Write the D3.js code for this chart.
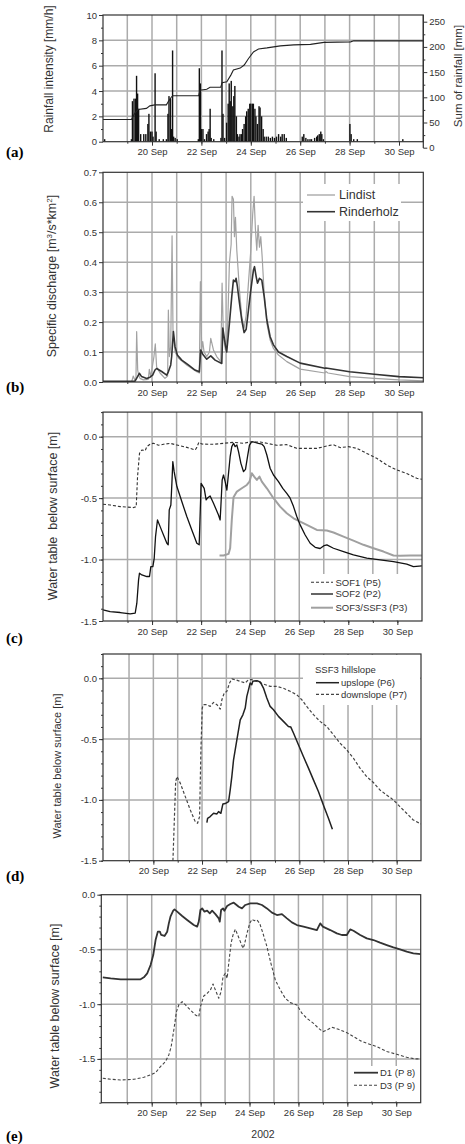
<!DOCTYPE html>
<html><head><meta charset="utf-8">
<script src="https://cdn.jsdelivr.net/npm/d3@7"></script>
<style>
body{margin:0;background:#fff}
svg{display:block}
text{fill:#333}
</style></head>
<body><svg id="c" width="465" height="1144" font-family='"Liberation Sans",Arial,sans-serif'></svg>
<script>
// ---------- DATA (time = hours since 18 Sep 2002 00:00) ----------
const labelDays = [20,22,24,26,28,30];
const rainBars = [[2,0.2],[28,0.2],[29,3.2],[30.5,3.4],[32,3.4],[33,5.2],[34,3.8],[35,2.6],[37,0.6],[40,0.6],[42,0.6],[44,1.4],[45,2.2],[46.5,0.8],[48,0.8],[49,0.4],[51,5.4],[52,0.8],[55,0.2],[59,0.2],[62,0.2],[63.5,2.2],[64.5,3.6],[66,3.4],[67,1.0],[68,7.2],[69,0.4],[70.5,0.3],[72.5,0.2],[93,0.2],[94,5.8],[95,4.6],[96,1.0],[97.5,1.0],[99,0.2],[101,0.6],[102.5,0.8],[103.5,1.0],[104.5,2.6],[105.5,0.3],[108,0.2],[115,0.3],[116,7.2],[117,2.2],[118.5,0.3],[120.5,1.5],[122,3.0],[123,4.6],[124,3.2],[125,4.8],[126.5,2.8],[127.5,3.6],[128.5,4.4],[130,2.0],[131,0.6],[132.5,0.4],[133.5,0.6],[135,0.6],[136,1.0],[137.5,1.4],[139,2.0],[140,2.4],[141.5,2.6],[143,3.0],[144,3.0],[145.5,3.0],[146.5,3.0],[148,2.6],[149,2.0],[150.5,1.4],[152,2.8],[153,2.7],[154.5,2.0],[156,1.0],[157,0.4],[159,0.4],[161,0.4],[163,0.3],[165,0.4],[167,0.3],[169,0.4],[171,0.6],[173,0.4],[174.5,0.6],[176.5,0.6],[178.5,0.3],[194,0.4],[195.5,0.6],[197.5,0.3],[199.5,0.2],[201.5,0.2],[203,0.2],[206,0.3],[208,0.4],[209,0.5],[210.5,0.6],[212,0.8],[213,0.6],[214.5,0.2],[240.3,1.4],[241.5,0.6],[244,0.2],[247.5,0.2],[291.7,0.2]];
const cumRain = [[0,56],[28,56],[29,60],[31.2,68],[34.5,76],[42.6,78],[45.9,83],[50.7,85],[62,85],[63.7,91],[67,101],[68.6,103],[93.3,103],[94.6,114],[101.2,116],[104.4,120],[114.8,120],[116.1,129],[120.7,131],[124.6,144],[127.1,154],[133.7,158],[137.6,164],[141.8,177],[146.6,190],[151.5,196],[159.7,198],[172.7,202],[185.7,204],[202,205],[215,209],[241,210],[244,212],[312,212]];
const lindist = [[0,0],[28.2,0],[29.8,0.02],[31.5,0.005],[32.4,0.01],[33.1,0.168],[34.1,0.04],[35.0,0.024],[36.3,0.012],[39.6,0.007],[44.4,0.009],[45.4,0.042],[46.7,0.018],[48.3,0.05],[49.9,0.085],[51.2,0.127],[52.5,0.05],[55.8,0.03],[60.6,0.012],[63.2,0.02],[63.9,0.24],[64.9,0.085],[66.2,0.118],[67.5,0.488],[68.4,0.17],[70.4,0.1],[73.6,0.08],[81.7,0.057],[91.5,0.034],[94.0,0.03],[95.0,0.335],[96.3,0.107],[97.3,0.135],[98.6,0.1],[101.2,0.085],[103.8,0.1],[105.1,0.146],[107.7,0.107],[110.9,0.085],[114.8,0.068],[116.1,0.33],[117.4,0.151],[119.3,0.107],[121.3,0.163],[123.2,0.396],[124.9,0.46],[125.8,0.62],[127.1,0.61],[128.1,0.485],[129.1,0.55],[130.4,0.44],[133.0,0.306],[135.2,0.218],[137.5,0.18],[139.5,0.222],[141.7,0.33],[144.0,0.44],[145.9,0.563],[147.2,0.62],[148.5,0.51],[149.8,0.44],[151.1,0.523],[152.4,0.45],[153.7,0.485],[155.0,0.42],[157.0,0.296],[159.6,0.196],[162.8,0.14],[166.0,0.112],[170.9,0.09],[179.0,0.068],[192.0,0.043],[216,0.03],[217,0.035],[219,0.03],[240,0.018],[264,0.012],[288,0.007],[312,0.004]];
const rinderholz = [[0,0.002],[31.5,0.003],[33.7,0.016],[35.7,0.029],[37.9,0.018],[42.8,0.012],[46.1,0.016],[48.6,0.023],[50.9,0.04],[52.5,0.045],[57.4,0.035],[62.3,0.023],[63.9,0.034],[66.2,0.057],[67.1,0.085],[68.8,0.168],[70.4,0.118],[72.6,0.09],[76.9,0.073],[83.3,0.057],[89.8,0.04],[94.0,0.034],[95.3,0.107],[97.3,0.093],[101.2,0.076],[105.1,0.087],[109.3,0.073],[115.8,0.062],[116.8,0.18],[119.0,0.13],[120.6,0.10],[123.2,0.195],[125.5,0.285],[127.1,0.34],[128.7,0.335],[129.7,0.346],[131.0,0.318],[133.0,0.263],[135.2,0.207],[137.5,0.165],[139.5,0.176],[141.7,0.24],[144.0,0.307],[146.6,0.374],[147.6,0.385],[149.2,0.352],[150.5,0.33],[152.4,0.346],[154.7,0.34],[157.0,0.285],[159.6,0.207],[162.8,0.151],[166.0,0.124],[170.9,0.10],[179.0,0.085],[192.0,0.063],[216,0.046],[217,0.047],[240,0.034],[264,0.026],[288,0.018],[312,0.014]];
const sof1 = [[0,-0.55],[7,-0.556],[16.8,-0.569],[29.9,-0.577],[32.5,-0.57],[33.8,-0.325],[35.7,-0.136],[38,-0.108],[41.3,-0.114],[42.9,-0.081],[46.2,-0.06],[49.4,-0.054],[54.3,-0.07],[59.2,-0.062],[65.7,-0.054],[72.3,-0.068],[82,-0.087],[90.2,-0.108],[91.8,-0.087],[93.8,-0.046],[96.7,-0.06],[108.1,-0.062],[117.9,-0.054],[127.7,-0.046],[137.5,-0.054],[144,-0.043],[153.8,-0.043],[160.3,-0.054],[170.1,-0.07],[179.8,-0.065],[189.6,-0.095],[199.4,-0.095],[209.2,-0.095],[219,-0.076],[225.5,-0.065],[232,-0.089],[240.2,-0.081],[248.3,-0.095],[258.1,-0.136],[267.8,-0.176],[277.6,-0.23],[287.4,-0.271],[297.2,-0.30],[307,-0.339],[312,-0.347]];
const sof2 = [[0,-1.409],[7,-1.423],[16.8,-1.431],[26.6,-1.442],[31.5,-1.436],[33.1,-1.355],[34.8,-1.165],[35.7,-1.111],[38,-1.125],[42.9,-1.138],[45.5,-1.138],[46.8,-1.057],[48.8,-1.057],[50.1,-0.99],[51.4,-0.813],[53.3,-0.678],[55.9,-0.732],[59.2,-0.8],[62.5,-0.867],[63.8,-0.88],[64.8,-0.596],[66.4,-0.556],[67.4,-0.38],[68.3,-0.203],[69.6,-0.285],[72.3,-0.406],[77.1,-0.528],[82,-0.65],[86.9,-0.759],[91.8,-0.867],[94.1,-0.88],[96,-0.38],[99,-0.42],[100.9,-0.515],[102.2,-0.5],[104.8,-0.482],[108.1,-0.542],[113,-0.637],[114.6,-0.678],[115.3,-0.57],[116.6,-0.352],[117.9,-0.312],[119.5,-0.366],[121.2,-0.434],[122.5,-0.325],[124.4,-0.163],[126,-0.081],[127.7,-0.054],[129.3,-0.081],[131,-0.068],[132.6,-0.122],[134.9,-0.217],[137.5,-0.285],[139.4,-0.266],[141.4,-0.163],[143.3,-0.068],[145.6,-0.041],[148.9,-0.046],[152.1,-0.054],[155.4,-0.06],[157.7,-0.081],[160.3,-0.149],[163.5,-0.257],[166.8,-0.312],[171.7,-0.366],[175.9,-0.42],[179.8,-0.461],[183.1,-0.501],[186.4,-0.569],[189.6,-0.65],[192.9,-0.718],[197.8,-0.8],[202.7,-0.867],[207.6,-0.9],[212.4,-0.91],[216.4,-0.886],[219,-0.88],[225.5,-0.908],[235.3,-0.935],[245,-0.962],[258.1,-0.989],[271.1,-1.003],[284.2,-1.016],[297.2,-1.038],[303.7,-1.057],[312,-1.051]];
const sof3 = [[114,-0.967],[117.9,-0.967],[122.8,-0.954],[124.4,-0.908],[126,-0.678],[127.7,-0.493],[131,-0.447],[135.8,-0.42],[140.7,-0.393],[143.3,-0.366],[145.6,-0.298],[147.9,-0.325],[150.5,-0.352],[153.1,-0.325],[155.4,-0.366],[160.3,-0.42],[166.8,-0.501],[173.3,-0.569],[179.8,-0.623],[186.4,-0.664],[192.9,-0.691],[199.4,-0.718],[209.2,-0.759],[219,-0.764],[225.5,-0.78],[235.3,-0.813],[245,-0.846],[254.8,-0.88],[264.6,-0.908],[274.4,-0.935],[284.2,-0.967],[290.7,-0.97],[300.5,-0.967],[312,-0.967]];
const upslope = [[100.8,-1.187],[101.5,-1.151],[104.1,-1.137],[107.4,-1.11],[110.7,-1.115],[112.3,-1.096],[114.6,-1.11],[116.6,-1.033],[118.9,-1.03],[122.2,-1.014],[123.8,-0.918],[125.4,-0.808],[127.1,-0.67],[130.4,-0.505],[133.7,-0.341],[136.3,-0.3],[138.6,-0.245],[140.2,-0.148],[141.9,-0.093],[143.5,-0.038],[145.1,-0.052],[146.1,-0.025],[150.1,-0.019],[153.4,-0.03],[156.6,-0.08],[159.9,-0.162],[163.2,-0.231],[166.5,-0.258],[171.4,-0.313],[176.3,-0.354],[181.2,-0.396],[183.6,-0.401],[186.2,-0.45],[191.1,-0.547],[196,-0.643],[201,-0.739],[205.9,-0.835],[210.8,-0.931],[215.7,-1.041],[220.7,-1.151],[224.6,-1.242]];
const downslope = [[67.3,-1.5],[70.0,-0.85],[71.3,-0.808],[74.6,-0.863],[79.5,-0.973],[84.4,-1.082],[89.3,-1.179],[91.6,-1.192],[93.6,-1.137],[94.9,-0.588],[96.2,-0.245],[97.5,-0.217],[100.8,-0.217],[104.1,-0.231],[107.4,-0.198],[110.7,-0.217],[114,-0.253],[115.6,-0.176],[117.9,-0.121],[120.5,-0.107],[123.2,-0.038],[125.4,-0.005],[128.7,-0.011],[133.7,-0.025],[138.6,-0.038],[141.9,-0.011],[145.1,-0.011],[150.1,-0.025],[156.6,-0.047],[163.2,-0.066],[169.8,-0.066],[176.3,-0.082],[182.9,-0.107],[189.5,-0.135],[194.4,-0.176],[199.3,-0.231],[205.9,-0.299],[212.4,-0.354],[219,-0.396],[225.6,-0.464],[232.1,-0.533],[238.7,-0.588],[245.3,-0.657],[251.8,-0.739],[258.4,-0.808],[265,-0.857],[271.5,-0.918],[278.1,-0.959],[284.7,-1.0],[291.2,-1.055],[297.8,-1.11],[304.4,-1.165],[311.9,-1.198]];
const d1 = [[0,-0.755],[7.7,-0.764],[17.5,-0.773],[30.5,-0.773],[37.1,-0.773],[40.3,-0.755],[43.6,-0.718],[46.9,-0.642],[49.5,-0.551],[51.8,-0.414],[54,-0.338],[56,-0.338],[57.3,-0.368],[60.6,-0.377],[63.2,-0.338],[64.8,-0.262],[66.4,-0.201],[69.1,-0.146],[70.4,-0.134],[73,-0.155],[77.9,-0.195],[82.8,-0.231],[89.3,-0.277],[92.6,-0.292],[94.2,-0.246],[95.8,-0.14],[97.5,-0.125],[99.8,-0.155],[102.4,-0.146],[105,-0.17],[107.3,-0.146],[110.5,-0.177],[113.8,-0.216],[114.8,-0.246],[116.1,-0.14],[118,-0.125],[119.3,-0.146],[122,-0.103],[125.2,-0.085],[128.5,-0.073],[130.1,-0.085],[133.4,-0.11],[136.6,-0.125],[139.9,-0.094],[144.8,-0.079],[151.3,-0.079],[156.2,-0.094],[161.1,-0.125],[166,-0.164],[170.9,-0.186],[175.8,-0.177],[180.7,-0.216],[185.6,-0.253],[190.5,-0.277],[197,-0.292],[203.6,-0.307],[210.1,-0.323],[213.4,-0.262],[216,-0.292],[223.2,-0.323],[229.7,-0.353],[234.6,-0.368],[239.5,-0.368],[242.8,-0.317],[246,-0.329],[252.6,-0.368],[259.1,-0.399],[265.6,-0.414],[272.1,-0.438],[278.7,-0.46],[285.2,-0.481],[291.7,-0.499],[298.3,-0.52],[304.8,-0.536],[312,-0.542]];
const d3s = [[0,-1.677],[7.7,-1.686],[17.5,-1.692],[30.5,-1.686],[40.3,-1.668],[46.9,-1.646],[51.8,-1.625],[56.6,-1.57],[61.5,-1.525],[64.8,-1.464],[67.1,-1.388],[69.7,-1.236],[72.3,-1.068],[74.6,-1.007],[77.9,-0.977],[81.1,-1.007],[86,-1.053],[90.9,-1.099],[94.2,-1.114],[95.8,-1.023],[99.1,-0.925],[102.4,-0.901],[105.6,-0.87],[108.2,-0.816],[110.5,-0.87],[113.8,-0.946],[116.1,-0.886],[118,-0.749],[120.3,-0.718],[122,-0.764],[123.6,-0.627],[125.9,-0.444],[127.8,-0.368],[130.1,-0.316],[132.4,-0.368],[135,-0.429],[137.6,-0.49],[138.9,-0.46],[141.5,-0.353],[144.2,-0.262],[146.4,-0.225],[148.7,-0.237],[151.3,-0.231],[154,-0.262],[157.2,-0.353],[161.1,-0.475],[165,-0.627],[169.3,-0.779],[174.2,-0.87],[179.1,-0.946],[184,-0.986],[190.5,-1.007],[195.4,-1.083],[200.3,-1.129],[206.8,-1.175],[211.7,-1.22],[216,-1.251],[219.9,-1.236],[224.8,-1.211],[231.3,-1.229],[239.5,-1.26],[246,-1.296],[252.6,-1.333],[259.1,-1.357],[268.9,-1.388],[278.7,-1.433],[288.5,-1.458],[298.3,-1.485],[306.4,-1.5],[312,-1.5]];

// ---------- SETUP ----------
const svg = d3.select("#c");
const T0 = new Date(2002,8,18), T1 = new Date(2002,9,1);
const hd = h => new Date(T0.getTime() + h*36e5);
const dayTicks = d3.timeDay.range(new Date(2002,8,19), T1);
const labelDates = labelDays.map(d => new Date(2002,8,d));
const GRID = "#ababab";
const FONT = '"Liberation Sans",Arial,sans-serif';
const f1 = d => d.toFixed(1);

function build(p){
  const x = d3.scaleTime().domain([T0,T1]).range([p.xs0,p.xs1]);
  const y = d3.scaleLinear().domain(p.yd).range([p.bottom,p.top]);
  const g = svg.append("g");
  const id = "clip_"+p.name;
  svg.append("clipPath").attr("id",id).append("rect")
    .attr("x",p.left).attr("y",p.top).attr("width",p.right-p.left).attr("height",p.bottom-p.top);
  g.append("g").selectAll("line").data(dayTicks).join("line")
    .attr("x1",d=>x(d)).attr("x2",d=>x(d)).attr("y1",p.top).attr("y2",p.bottom)
    .attr("stroke",GRID).attr("stroke-width",1.5);
  g.append("g").selectAll("line").data(p.grid).join("line")
    .attr("x1",p.left).attr("x2",p.right).attr("y1",d=>y(d)).attr("y2",d=>y(d))
    .attr("stroke",GRID).attr("stroke-width",1.5);
  if (p.box) g.append("rect").attr("x",p.box[0]).attr("y",p.box[1])
    .attr("width",p.box[2]-p.box[0]).attr("height",p.box[3]-p.box[1]).attr("fill","#fff");
  const data = g.append("g").attr("clip-path",`url(#${id})`);
  return {x,y,g,data,p};
}
function styleAxis(sel, size){
  sel.select(".domain").remove();
  sel.attr("font-family",FONT).attr("font-size",size||9.5);
  sel.selectAll(".tick line").attr("stroke","#333").attr("stroke-width",1);
  sel.selectAll(".tick text").attr("fill","#333");
}
function finish(P){
  const {x,y,g,p} = P;
  g.append("rect").attr("x",p.left).attr("y",p.top).attr("width",p.right-p.left).attr("height",p.bottom-p.top)
    .attr("fill","none").attr("stroke","#333").attr("stroke-width",1.2);
  styleAxis(g.append("g").attr("transform",`translate(${p.left},0)`)
    .call(d3.axisLeft(y).tickValues(p.yt).tickFormat(p.fmt).tickSize(4).tickPadding(2)));
  if (p.ym) styleAxis(g.append("g").attr("transform",`translate(${p.left},0)`)
    .call(d3.axisLeft(y).tickValues(p.ym).tickFormat("").tickSize(2)));
  styleAxis(g.append("g").attr("transform",`translate(0,${p.bottom})`)
    .call(d3.axisBottom(x).tickValues(labelDates).tickFormat(d3.timeFormat("%-d %b")).tickSize(4).tickPadding(3)));
  styleAxis(g.append("g").attr("transform",`translate(0,${p.bottom})`)
    .call(d3.axisBottom(x).tickValues(dayTicks).tickFormat("").tickSize(2)));
}
function line(P, arr, stroke, width, dash){
  const gen = d3.line().x(d=>P.x(hd(d[0]))).y(d=>P.y(d[1]));
  const path = P.data.append("path").datum(arr).attr("d",gen).attr("fill","none")
    .attr("stroke",stroke).attr("stroke-width",width).attr("stroke-linejoin","round");
  if (dash) path.attr("stroke-dasharray",dash);
}
function legLine(x1,x2,y,stroke,width,dash){
  const l = svg.append("line").attr("x1",x1).attr("x2",x2).attr("y1",y).attr("y2",y)
    .attr("stroke",stroke).attr("stroke-width",width);
  if (dash) l.attr("stroke-dasharray",dash);
}
function label(x,y,txt,size,anchor){
  return svg.append("text").attr("x",x).attr("y",y).attr("dy","0.35em")
    .attr("font-size",size).attr("text-anchor",anchor||"start").text(txt);
}
function vtitle(cx,cy,txt,size){
  return svg.append("text").attr("transform",`translate(${cx},${cy}) rotate(-90)`)
    .attr("dy","0.35em").attr("text-anchor","middle").attr("font-size",size)
    .style("white-space","pre").text(txt);
}
function plabel(y,txt){
  svg.append("text").attr("x",6).attr("y",y)
    .style("font-family",'"Liberation Serif","Times New Roman",serif')
    .style("font-weight","bold").style("font-size","15px").style("fill","#000").text(txt);
}

// ---------- PANEL A ----------
const A = build({name:"a",left:103,right:423.3,top:15,bottom:141.7,xs0:102.6,xs1:423.7,
  yd:[0,10],grid:[2,4,6,8],yt:[0,2,4,6,8,10],ym:[1,3,5,7,9],fmt:d=>d});
A.data.append("g").selectAll("rect").data(rainBars).join("rect")
  .attr("x",d=>A.x(hd(d[0]))-0.7).attr("width",1.4)
  .attr("y",d=>A.y(d[1])).attr("height",d=>A.y(0)-A.y(d[1])).attr("fill","#111");
const yR = d3.scaleLinear().domain([0,250]).range([147.7,21.7]);
A.data.append("path").datum(cumRain)
  .attr("d",d3.line().x(d=>A.x(hd(d[0]))).y(d=>yR(d[1]))).attr("fill","none")
  .attr("stroke","#222").attr("stroke-width",1.1);
finish(A);
svg.append("line").attr("x1",423.3).attr("x2",423.3).attr("y1",15).attr("y2",148).attr("stroke","#333").attr("stroke-width",1.2);
styleAxis(svg.append("g").attr("transform","translate(423.3,0)")
  .call(d3.axisRight(yR).tickValues([0,50,100,150,200,250]).tickSize(4).tickPadding(2)));
styleAxis(svg.append("g").attr("transform","translate(423.3,0)")
  .call(d3.axisRight(yR).tickValues([25,75,125,175,225]).tickFormat("").tickSize(2)));
vtitle(49,69,"Rainfall intensity [mm/h]",12);
vtitle(457.5,76,"Sum of rainfall [mm]",11.5);
plabel(157,"(a)");

// ---------- PANEL B ----------
const B = build({name:"b",left:103,right:423.3,top:172.3,bottom:382,xs0:102.6,xs1:423.7,
  yd:[0,0.7],grid:[0.1,0.2,0.3,0.4,0.5,0.6],yt:[0,0.1,0.2,0.3,0.4,0.5,0.6,0.7],fmt:f1,
  box:[303,184,401,221]});
line(B, lindist, "#a2a2a2", 1.2);
line(B, rinderholz, "#333", 1.6);
finish(B);
legLine(307,335,195,"#a2a2a2",1.3);
legLine(307,335,211.7,"#333",1.6);
label(339,195,"Lindist",12.5);
label(339,211.7,"Rinderholz",12.5);
const tb = svg.append("text").attr("transform","translate(52,276) rotate(-90)")
  .attr("dy","0.35em").attr("text-anchor","middle").attr("font-size",12.5);
tb.append("tspan").text("Specific discharge [m");
tb.append("tspan").attr("baseline-shift","super").attr("font-size",8).text("3");
tb.append("tspan").text("/s*km");
tb.append("tspan").attr("baseline-shift","super").attr("font-size",8).text("2");
tb.append("tspan").text("]");
plabel(392,"(b)");

// ---------- PANEL C ----------
const C = build({name:"c",left:103,right:422,top:412.1,bottom:621,xs0:103,xs1:421.9,
  yd:[-1.5,0.2],grid:[0,-0.5,-1.0],yt:[0,-0.5,-1.0,-1.5],
  ym:d3.range(-15,3).map(v=>v/10),fmt:f1,box:[305,574,422,620]});
line(C, sof3, "#a0a0a0", 2.0);
line(C, sof2, "#111", 1.3);
line(C, sof1, "#333", 1.1, "3,2");
finish(C);
legLine(311,333,582.3,"#333",1.1,"3,2");
legLine(311,333,594,"#111",1.3);
legLine(311,333,607.7,"#a0a0a0",2.0);
label(335.5,582.3,"SOF1 (P5)",9.5);
label(335.5,594,"SOF2 (P2)",9.5);
label(335.5,607.7,"SOF3/SSF3 (P3)",9.5);
vtitle(53,516,"Water table  below surface [m]",12.5);
plabel(643,"(c)");

// ---------- PANEL D ----------
const D = build({name:"d",left:103,right:421,top:654,bottom:860.7,xs0:104.7,xs1:421,
  yd:[-1.5,0.2],grid:[0,-0.5,-1.0],yt:[0,-0.5,-1.0,-1.5],
  ym:d3.range(-15,3).map(v=>v/10),fmt:f1,box:[303,655,420,705]});
line(D, downslope, "#444", 1.2, "3,2");
line(D, upslope, "#222", 1.5);
finish(D);
label(315,670,"SSF3 hillslope",9.5);
legLine(316,339,682.7,"#222",1.5);
legLine(316,339,694.3,"#444",1.2,"3,2");
label(341,682.7,"upslope (P6)",9.5);
label(341,694.3,"downslope (P7)",9.5);
vtitle(57,766,"Water table below surface [m]",11);
plabel(881,"(d)");

// ---------- PANEL E ----------
const E = build({name:"e",left:101.3,right:420.7,top:894.7,bottom:1102.7,xs0:102.8,xs1:420.7,
  yd:[-1.9,0],grid:[-0.5,-1.0,-1.5],yt:[0,-0.5,-1.0,-1.5],
  ym:d3.range(-19,1).map(v=>v/10),fmt:f1,box:[351,1066,420,1101]});
line(E, d3s, "#444", 1.1, "3,2");
line(E, d1, "#333", 1.8);
finish(E);
legLine(354,378,1072.7,"#333",1.8);
legLine(354,378,1085.3,"#444",1.1,"3,2");
label(380,1072.7,"D1 (P 8)",9.5);
label(380,1085.3,"D3 (P 9)",9.5);
vtitle(55,1006,"Water table below surface [m]",12.5);
svg.append("text").attr("x",263).attr("y",1138).attr("text-anchor","middle").attr("font-size",10.5).text("2002");
plabel(1141,"(e)");
</script></body></html>
